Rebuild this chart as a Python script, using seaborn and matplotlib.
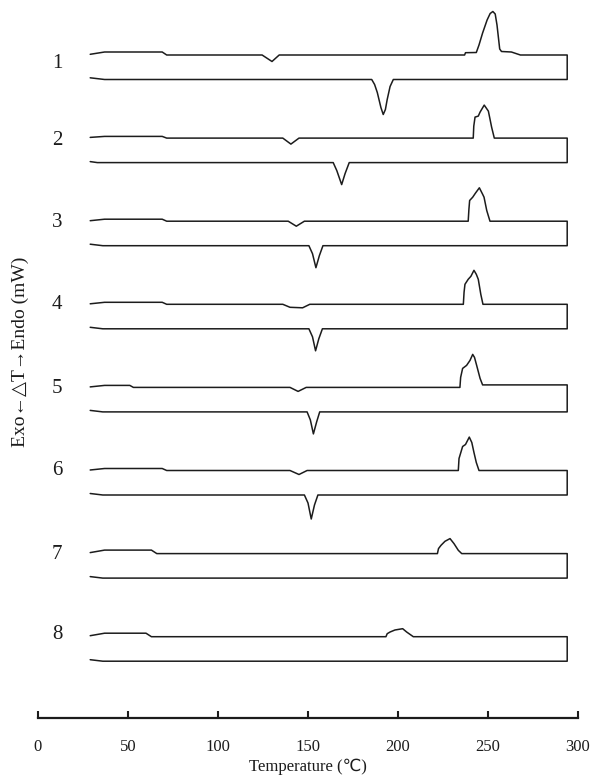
import numpy as np
import pandas as pd
import matplotlib
matplotlib.use('Agg')
import matplotlib.pyplot as plt
import seaborn as sns

# DSC traces: (temperature in C, signal) knots.
# heating curve on top, cooling curve below, signal relative to its own baseline
heat1 = [(29, 0.7), (37, 3), (69, 3), (71.5, 0), (124.5, 0), (130, -6.5), (134, 0),
         (237, 0), (237.5, 2.3), (243.5, 2.5), (245, 10), (247, 22), (249.5, 35),
         (251.2, 41.5), (252.7, 43.5), (254, 41), (255, 30), (256.5, 6), (257.5, 3.5),
         (263, 3), (268, 0), (294, 0)]
cool1 = [(29, 1.7), (37, 0), (185.4, 0), (187, -5), (188.5, -13), (190.5, -28),
         (191.8, -35), (193, -30), (194, -20), (195.6, -7), (197.4, 0), (294, 0)]

heat2 = [(29, 0.7), (37, 1.7), (69, 1.7), (71.5, 0), (136, 0), (140.5, -6), (145, 0),
         (241.8, 0), (242.1, 12), (242.8, 21), (244.6, 22), (245.6, 26), (247.9, 33),
         (250.2, 27), (251, 20), (252, 11), (253.5, 0), (294, 0)]
cool2 = [(29, 1), (33, 0), (164, 0), (166, -8), (168.7, -22), (170.6, -11), (172.9, 0), (294, 0)]

heat3 = [(29, 0.5), (37, 2), (69, 2), (71.5, 0), (139, 0), (143.5, -5), (148, 0),
         (239, 0), (239.4, 12), (239.8, 20.7), (241.5, 24), (243, 28), (245.2, 33.4),
         (247, 27), (247.8, 24), (249.3, 10.7), (251.1, 0), (294, 0)]
cool3 = [(29, 1.5), (36, 0), (150.5, 0), (152.5, -8), (154.4, -22), (156.3, -10), (158.3, 0), (294, 0)]

heat4 = [(29, 0.5), (37, 2), (69, 2), (71.5, 0), (136, 0), (140, -3), (147, -3.5), (151, 0),
         (236.3, 0), (236.7, 12), (237.2, 20), (239, 25), (240.5, 28), (242.2, 34),
         (243.5, 30), (244.6, 25), (246, 10), (247.2, 0), (294, 0)]
cool4 = [(29, 1.5), (36, 0), (150.5, 0), (152.5, -8), (154.2, -22), (156, -10), (158, 0), (294, 0)]

heat5 = [(29, 0.5), (37, 2), (51, 2), (53, 0), (140, 0), (144.5, -4), (149, 0),
         (234.4, 0), (234.8, 10), (235.9, 19), (238.1, 22), (240, 27), (241.5, 33),
         (242.5, 30), (243.7, 22), (245.6, 9), (247, 2.5), (294, 2.5)]
cool5 = [(29, 1.5), (36, 0), (149.5, 0), (151.3, -8), (153, -22), (154.8, -10), (156.5, 0), (294, 0)]

heat6 = [(29, 0.5), (37, 2), (69, 2), (71.5, 0), (140, 0), (145, -4), (149.5, 0),
         (233.5, 0), (233.9, 12), (235.9, 24), (237.5, 26), (239.6, 33.4), (241, 28),
         (242.2, 18), (243.5, 8), (245, 0), (294, 0)]
cool6 = [(29, 1.5), (36, 0), (148, 0), (150, -8), (151.8, -24), (153.6, -10), (155.5, 0), (294, 0)]

heat7 = [(29, 1), (37, 3.5), (63, 3.5), (66, 0), (221.9, 0), (222.5, 5), (223.9, 8.3),
         (226.1, 12.3), (228.9, 15), (231.1, 10), (233.5, 3.3), (235.4, 0), (294, 0)]
cool7 = [(29, 1.5), (36, 0), (294, 0)]

heat8 = [(29, 1), (37, 3.5), (60, 3.5), (63, 0), (193.3, 0), (194, 3), (195.6, 4.7),
         (198.3, 6.7), (202.6, 8), (204.8, 4.7), (208.5, 0), (294, 0)]
cool8 = [(29, 1.5), (36, 0), (294, 0)]

samples = ['1', '2', '3', '4', '5', '6', '7', '8']
heating = [heat1, heat2, heat3, heat4, heat5, heat6, heat7, heat8]
cooling = [cool1, cool2, cool3, cool4, cool5, cool6, cool7, cool8]
x_ticks = [0, 50, 100, 150, 200, 250, 300]

# layout of the stack (not data)
top_base = 55
spacing = 83.1
gap = 24.5
label_nudge = [9, 2, 1, 0, 1, 0, 1, -2]

rows = []
for i, name in enumerate(samples):
    base = -(top_base + spacing * i)
    # heating left to right, down the right edge, cooling back right to left
    for t, v in heating[i]:
        rows.append((name, t, base + v))
    for t, v in cooling[i][::-1]:
        rows.append((name, t, base - gap + v))
df = pd.DataFrame(rows, columns=['sample', 'T', 'y'])

sns.set_theme(style='white')
plt.rcParams['font.family'] = ['Liberation Serif', 'DejaVu Sans', 'Noto Sans CJK SC']

fig = plt.figure(figsize=(5.92, 7.76), dpi=100)
ax = fig.add_axes([38 / 592, 1 - 718 / 776, 540 / 592, 718 / 776])

sns.lineplot(data=df, x='T', y='y', units='sample', estimator=None, sort=False,
             color='#1c1c1c', linewidth=1.1, legend=False, ax=ax)

for i, name in enumerate(samples):
    base = -(top_base + spacing * i)
    ax.text(10.6, base - label_nudge[i], name, fontsize=15, ha='center', va='center',
            color='#1c1c1c')

ax.set_xlim(0, 300)
ax.set_ylim(-718, 0)
ax.set_xticks(x_ticks)
ax.set_yticks([])
for side in ['left', 'top', 'right']:
    ax.spines[side].set_visible(False)
ax.spines['bottom'].set_linewidth(1.6)
ax.spines['bottom'].set_color('#1c1c1c')
ax.tick_params(axis='x', direction='in', length=5, width=1.5, pad=15,
               labelsize=12, colors='#1c1c1c', bottom=True)

ax.set_xlabel('Temperature (℃)', fontsize=12, color='#1c1c1c')
ax.xaxis.set_label_coords(0.5, -0.0565)
ax.set_ylabel('Exo←△T→Endo (mW)', fontsize=14, color='#1c1c1c')
ax.yaxis.set_label_coords(-0.017, 0.51)

fig.savefig('out.png', dpi=100)
